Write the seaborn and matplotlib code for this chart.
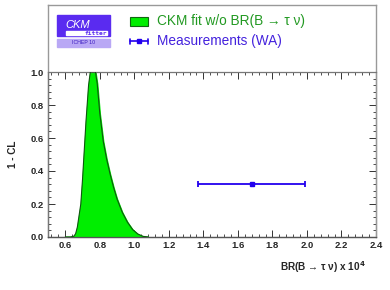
import numpy as np
import pandas as pd
import matplotlib
matplotlib.use("Agg")
import matplotlib.pyplot as plt
import seaborn as sns
from matplotlib.patches import Rectangle
from matplotlib.ticker import MultipleLocator

# ---- data ----
br_values = [0.60, 0.63, 0.65, 0.66, 0.67, 0.69, 0.70, 0.72, 0.735, 0.745, 0.76, 0.775,
             0.785, 0.80, 0.82, 0.84, 0.86, 0.88, 0.90, 0.93, 0.96, 0.99, 1.02, 1.05, 1.08]
cl_values = [0.0, 0.0, 0.005, 0.02, 0.06, 0.20, 0.35, 0.70, 0.92, 1.0, 1.0, 1.0,
             0.93, 0.75, 0.58, 0.47, 0.38, 0.30, 0.23, 0.15, 0.09, 0.045, 0.018, 0.004, 0.0]
meas_center = [1.68]
meas_cl = [0.32]
meas_err = [0.31]
x_ticks = [0.6, 0.8, 1.0, 1.2, 1.4, 1.6, 1.8, 2.0, 2.2, 2.4]
y_ticks = [0.0, 0.2, 0.4, 0.6, 0.8, 1.0]
legend_labels = ["CKM fit w/o BR(B \u2192 \u03c4 \u03bd)", "Measurements (WA)"]

sns.set_style("white")
plt.rcParams['font.family'] = ['Liberation Sans', 'DejaVu Sans']

W, H = 390, 290
fig = plt.figure(figsize=(W / 100, H / 100), dpi=100)

def fx(px):
    return px / W

def fy(py):
    return 1 - py / H

# outer grey frame (legend area + plot)
outer = fig.add_axes([fx(48), fy(237), fx(376) - fx(48), fy(5) - fy(237)])
outer.set_xticks([]); outer.set_yticks([])
for s in outer.spines.values():
    s.set_color("#999999"); s.set_linewidth(1.0)
outer.patch.set_alpha(0)

ax = fig.add_axes([fx(48), fy(237), fx(376) - fx(48), fy(72) - fy(237)])
ax.patch.set_alpha(0)
df = pd.DataFrame({"br": br_values, "cl": cl_values})
ax.fill_between(df["br"], df["cl"], 0, color="#00ee00", zorder=2)
sns.lineplot(data=df, x="br", y="cl", ax=ax, color="#115511", lw=0.8, zorder=3,
             estimator=None, sort=False)
ax.errorbar(meas_center, meas_cl, xerr=meas_err, color="#2200ee", lw=1.3,
            capsize=2.5, capthick=1.3, marker="s", ms=2.5, zorder=4)

ax.set_xlim(0.5, 2.4)
ax.set_ylim(0, 1.0)
ax.set_xticks(x_ticks)
ax.set_yticks(y_ticks)
ax.set_xticklabels([f"{v:.1f}" for v in x_ticks])
ax.set_yticklabels([f"{v:.1f}" for v in y_ticks])
ax.xaxis.set_minor_locator(MultipleLocator(0.04))
ax.yaxis.set_minor_locator(MultipleLocator(0.04))
ax.tick_params(which="both", direction="in", top=True, right=True, bottom=True, left=True,
               labelsize=6.8, pad=3, color="#333333")
ax.tick_params(which="major", length=5, width=0.7)
ax.tick_params(which="minor", length=2.5, width=0.6)
for lab in ax.get_xticklabels() + ax.get_yticklabels():
    lab.set_fontweight("bold")
for side, s in ax.spines.items():
    s.set_linewidth(0.9)
    s.set_color("#555555")
ax.spines["top"].set_color("#777777")
ax.spines["right"].set_color("#999999")
ax.spines["left"].set_color("#777777")
ax.set_ylabel("1 - CL", fontsize=7.2, fontweight="bold", loc="center", labelpad=9)
ax.set_xlabel("")
fig.text(fx(366), fy(267), "BR(B \u2192 \u03c4 \u03bd) x 10$^{\\mathbf{4}}$", fontsize=7.2,
         fontweight="bold", ha="right", va="center", family=["Liberation Sans", "DejaVu Sans"])

# CKMfitter logo
fig.patches.append(Rectangle((fx(57), fy(36)), fx(110) - fx(57), fy(15) - fy(36),
                             transform=fig.transFigure, color="#5a2bf0", zorder=5))
fig.patches.append(Rectangle((fx(57), fy(47)), fx(110) - fx(57), fy(39) - fy(47),
                             transform=fig.transFigure, color="#b9a8f5", zorder=5))
fig.patches.append(Rectangle((fx(66), fy(35)), fx(107) - fx(66), fy(31) - fy(35),
                             transform=fig.transFigure, color="white", zorder=6))
fig.text(fx(65), fy(25), "CKM", fontsize=8, style="italic", color="white", va="center", zorder=7)
fig.text(fx(107), fy(33.5), "fitter", fontsize=4.5, fontweight="bold", color="#5a2bf0",
         ha="right", va="center", zorder=7, family="DejaVu Sans Mono")
fig.text(fx(83.5), fy(43), "ICHEP 10", fontsize=3.8, color="#3a1bc0", ha="center",
         va="center", zorder=7)

# legend
fig.patches.append(Rectangle((fx(130), fy(26)), fx(148) - fx(130), fy(17) - fy(26),
                             transform=fig.transFigure, facecolor="#00ee00",
                             edgecolor="#116611", lw=0.8, zorder=5))
fig.text(fx(157), fy(21), legend_labels[0], fontsize=9.8, color="#229922", va="center")
fig.lines.append(plt.Line2D([fx(130), fx(148)], [fy(41), fy(41)], transform=fig.transFigure,
                            color="#2200ee", lw=1.2))
for px in (130, 148):
    fig.lines.append(plt.Line2D([fx(px), fx(px)], [fy(38.5), fy(43.5)],
                                transform=fig.transFigure, color="#2200ee", lw=1.2))
fig.lines.append(plt.Line2D([fx(139)], [fy(41)], transform=fig.transFigure, color="#2200ee",
                            marker="s", ms=2.5))
fig.text(fx(157), fy(41), legend_labels[1], fontsize=9.8, color="#4422dd", va="center")

fig.savefig("out.png", dpi=100)
